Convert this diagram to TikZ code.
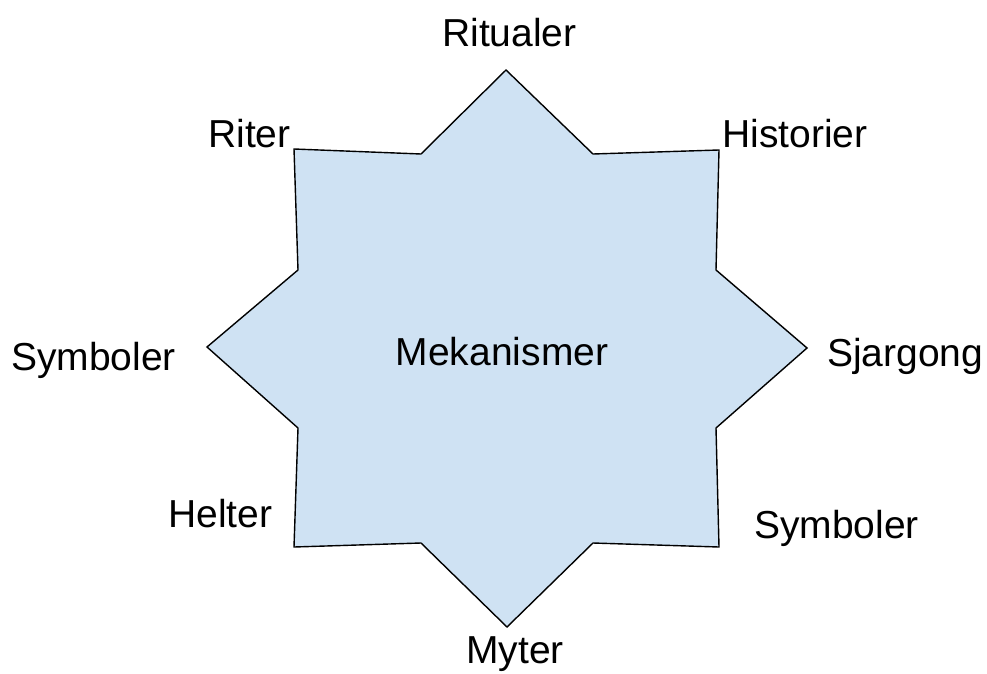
\documentclass[tikz,border=0pt]{standalone}
\usepackage{fontspec}
\setmainfont{Liberation Sans}
\definecolor{starblue}{HTML}{CFE2F3}
\tikzset{
  lbl/.style={inner sep=0pt,anchor=base west,font=\fontsize{39}{45}\selectfont},
}
\begin{document}
\begin{tikzpicture}[x=1pt,y=-1pt]
		\useasboundingbox (0,0) rectangle (987,674);
		\filldraw[fill=starblue,draw=black,line width=1.4pt,line join=miter]
			(506,70)--(593,154)--(719,150)--(716,270)--(807,348)--(716,428)--(719,547)--(593,543)
			--(507,627)--(421,543)--(294,547)--(298,428)--(207,347)--(298,270)--(294,149)--(421,154)--cycle;
		\node[lbl,anchor=base] (mek) at (502,365) {Mekanismer};
		\node[lbl] (ritualer) at (442,47) {Ritualer};
		\node[lbl] (riter) at (208,147) {Riter};
		\node[lbl] (historier) at (722,147) {Historier};
		\node[lbl] (symbolerL) at (11,370) {Symboler};
		\node[lbl] (sjargong) at (827,366) {Sjargong};
		\node[lbl] (helter) at (168,527) {Helter};
		\node[lbl] (symbolerR) at (754,538) {Symboler};
		\node[lbl] (myter) at (466,663) {Myter};
	    \end{tikzpicture}
\end{document}
